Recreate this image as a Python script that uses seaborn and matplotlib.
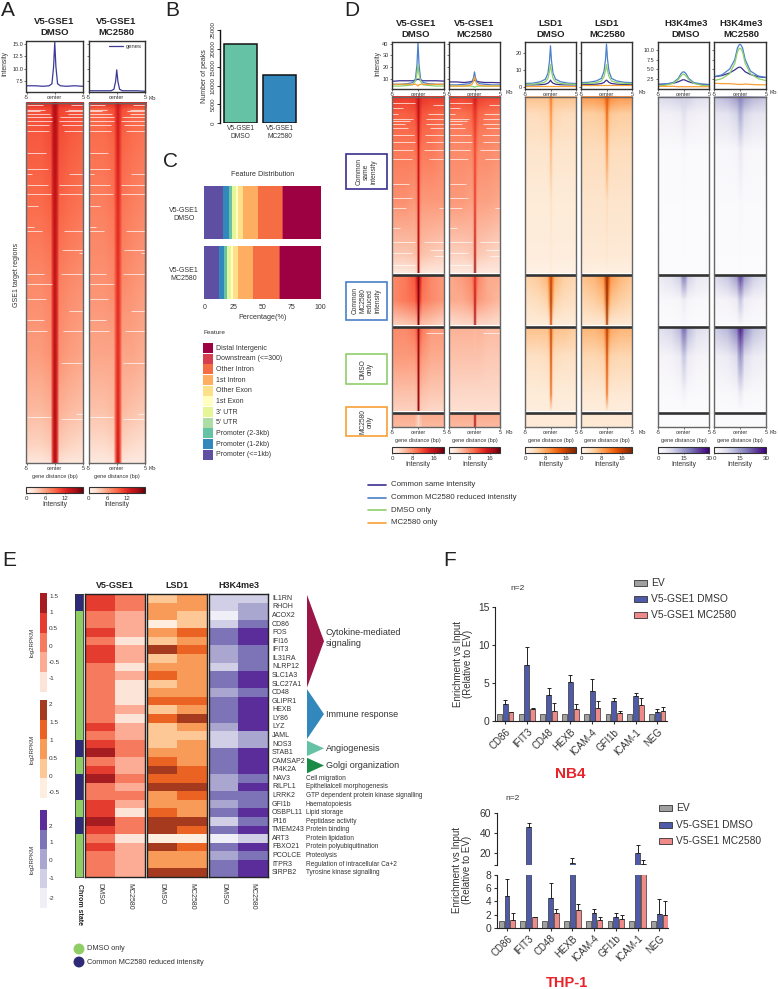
#!/usr/bin/env python3

import pandas as pd
import matplotlib.pyplot as plt
from matplotlib.colors import ListedColormap, Normalize
from matplotlib.cm import ScalarMappable
from matplotlib.image import NonUniformImage
from matplotlib.patches import Rectangle
import seaborn as sns

W, H = 778, 989

# ---- panel A / D signal tables, columns are kb from centre
heat_x = [-5, -2.5, -0.75, -0.35, 0, 0.35, 0.75, 2.5, 5]

a_rows = [0, .02, .1, .3, .5, .7, .85, .95, 1]
a_dmso = [[12, 12, 12, 14, 15, 14, 12, 12, 12],
          [10, 10, 10.5, 13, 15, 13, 10.5, 10, 10],
          [9.5, 9.5, 10, 13, 14.5, 13, 10, 9.5, 9],
          [8.5, 8.5, 9, 12.5, 14, 12.5, 9, 8.5, 8],
          [7, 7, 7.5, 12, 14, 12, 7.5, 7, 6.5],
          [6, 6, 6.5, 12, 14.5, 12, 6.5, 6, 5.5],
          [4.5, 4.5, 5, 12, 15, 12, 5, 4.5, 4],
          [3, 3, 3.5, 12, 15, 12, 3.5, 3, 2.5],
          [1.5, 1.5, 2, 12, 15, 12, 2, 1.5, 1.5]]
a_mc = [[12, 12, 12, 13, 14, 13, 12, 12, 12],
        [9, 9, 10, 11.5, 13, 11.5, 10, 9, 9],
        [8.5, 8.5, 9, 11, 13, 11, 9, 8.5, 8],
        [7.5, 7.5, 8, 10.5, 12, 10.5, 8, 7.5, 7],
        [6.5, 6.5, 7, 10, 12, 10, 7, 6.5, 6],
        [5.5, 5.5, 5.5, 10, 12, 10, 5.5, 5.5, 5],
        [4, 4, 4.5, 10, 12.5, 10, 4.5, 4, 3.5],
        [2.5, 2.5, 3, 10, 13, 10, 3, 2.5, 2],
        [1.2, 1.2, 1.5, 10, 14, 10, 1.5, 1.2, 1.2]]

# white no-signal streaks: row (0-1000), and where they stop / start in kb
a_left_rows = [6, 19, 23, 31, 39, 51, 60, 78, 139, 184, 198, 229, 253, 287, 345, 356, 474, 503, 545, 604, 634, 871]
a_left_end = [-2, -1.7, -2.6, -.8, -.5, -.5, -1.1, -1.1, -1.5, -1.25, -4, -1.25, -.7, -2.9, -3.7, -2.2, -1.9, -.5, -1.5, -1.9, -1.4, -.7]
a_right_rows = [6, 19, 23, 31, 39, 51, 60, 78, 198, 229, 253, 356, 409, 417, 474, 579, 634, 721, 863, 879]
a_right_start = [2.9, 2.4, 1.8, 2.4, .95, .8, 1.25, 1.7, 2.6, .8, .8, 1.7, 1.25, 4.3, 1.1, 2.6, 1.4, 1.1, 3.8, 1.1]

# clusters of panel D, heights in rows
d_names = ['Common same intensity', 'Common MC2580 reduced intensity', 'DMSO only', 'MC2580 only']
d_heights = [176, 49, 83, 13]
d_starts = [0, 179, 231, 317]
d_rows = [[0, .1, .3, .6, .9, 1], [0, .5, 1], [0, .35, .8, 1], [0, 1]]

d1_v5_dmso = [[[13, 12.5, 13, 14, 16, 14, 13, 12.5, 12.5], [10.5, 10.5, 11, 12.5, 16, 12.5, 11, 10.5, 10], [9, 9, 9, 10, 15, 10, 9, 9, 8],
               [7.5, 7.5, 7, 8, 15, 8, 7, 7, 7], [4, 4, 4.5, 5, 17, 5, 4.5, 4, 3.5], [1.5, 1.5, 2, 3, 18, 3, 2, 1.5, 1.5]],
              [[8, 9, 11, 14, 19, 14, 10, 8, 7], [8, 9, 10, 12, 19, 12, 9, 8, 7], [3.5, 4, 4.5, 5, 19, 5, 4.5, 4, 3]],
              [[8, 8, 9, 11, 18, 11, 9, 7, 7], [7, 7, 7, 8, 18, 8, 7, 6, 6], [4.5, 4.5, 4.5, 5, 18, 5, 4.5, 4, 4], [3.5, 3.5, 3.5, 4, 18, 4, 3.5, 3, 3]],
              [[6, 6, 6, 5, 3, 5, 6, 6, 6], [5, 5, 5, 4, 3, 4, 5, 5, 5]]]
d2_v5_mc = [[[12.5, 12, 12.5, 13.5, 15, 13.5, 12.5, 12, 12], [9.5, 9.5, 10, 11.5, 13, 11.5, 10, 9.5, 9], [8, 8, 8, 9, 12, 9, 8, 8, 7.5],
             [7, 7, 6.5, 7, 13, 7, 6.5, 6.5, 6], [3.5, 3.5, 4, 4.5, 16, 4.5, 4, 3.5, 3], [1.5, 1.5, 1.5, 2.5, 18, 2.5, 1.5, 1.5, 1.5]],
            [[6, 7, 8, 10, 14, 10, 8, 6, 6], [6, 6, 7, 8, 16, 8, 7, 6, 5], [2.5, 3, 3, 3.5, 17, 3.5, 3, 3, 2.5]],
            [[5.5, 5.5, 5.5, 5.5, 5, 5.5, 5.5, 5, 5], [4.5, 4.5, 4.5, 4.5, 4.5, 4.5, 4.5, 4, 4], [3, 3, 3, 3, 3, 3, 3, 3, 3], [2.5, 2.5, 2.5, 2.5, 2.5, 2.5, 2.5, 2.5, 2.5]],
            [[6, 6, 6, 6, 16, 6, 6, 6, 6], [5, 5, 5, 5, 17, 5, 5, 5, 5]]]
d3_lsd_dmso = [[[6, 6, 6, 7, 12, 7, 6, 6, 6], [3.5, 3.5, 4, 5, 10, 5, 4, 3.5, 3.5], [2.5, 2.5, 2.5, 3, 7, 3, 2.5, 2.5, 2.5],
                [1.5, 1.5, 1.5, 1.5, 3, 1.5, 1.5, 1.5, 1.5], [1.2, 1.2, 1.2, 1.2, 2, 1.2, 1.2, 1.2, 1.2], [.6, .6, .6, .6, 1.5, .6, .6, .6, .6]],
               [[4.5, 5.5, 7, 11, 16, 11, 7, 5, 4], [3, 3.5, 4.5, 8, 17, 8, 4.5, 3.5, 3], [1.5, 1.5, 1.5, 2, 15, 2, 1.5, 1.5, 1.5]],
               [[6, 6, 6, 8, 16, 8, 6, 6, 5], [3, 3, 3.5, 4, 15, 4, 3.5, 3, 3], [1.5, 1.5, 1.5, 2, 12, 2, 1.5, 1.5, 1.5], [1.2, 1.2, 1.2, 1.2, 2.5, 1.2, 1.2, 1.2, 1.2]],
               [[2, 2, 2, 2, 2, 2, 2, 2, 2], [1.7, 1.7, 1.7, 1.7, 1.7, 1.7, 1.7, 1.7, 1.7]]]
d4_lsd_mc = [[[9, 9, 10, 12, 14, 12, 10, 9, 9], [5, 5, 5.5, 7, 13, 7, 5.5, 5, 5], [3.5, 3.5, 3.5, 4.5, 10, 4.5, 3.5, 3.5, 3.5],
              [2.5, 2.5, 2.5, 2.5, 3.5, 2.5, 2.5, 2.5, 2.5], [1.8, 1.8, 1.8, 1.8, 2.5, 1.8, 1.8, 1.8, 1.8], [.8, .8, .8, .8, 1, .8, .8, .8, .8]],
             [[6, 7, 9, 14, 19, 14, 9, 7, 5.5], [4, 5, 6, 10, 19, 10, 6, 5, 4], [2, 2, 2, 3, 17, 3, 2, 2, 2]],
             [[7, 7, 8, 11, 17, 11, 8, 7, 7], [4, 4, 4.5, 6, 15, 6, 4.5, 4, 4], [2, 2, 2, 2.5, 12, 2.5, 2, 2, 2], [1.3, 1.3, 1.3, 1.3, 2.5, 1.3, 1.3, 1.3, 1.3]],
             [[2.2, 2.2, 2.2, 2.2, 2.2, 2.2, 2.2, 2.2, 2.2], [1.8, 1.8, 1.8, 1.8, 1.8, 1.8, 1.8, 1.8, 1.8]]]
d5_h3_dmso = [[[7, 8, 9, 9, 8, 9, 9, 7, 6], [2.5, 2.5, 3.5, 5, 6, 5, 3.5, 2.5, 2], [.5, .5, .5, .8, 1.2, .8, .5, .5, .5],
               [.3, .3, .3, .3, .5, .3, .3, .3, .3], [.2, .2, .2, .2, .2, .2, .2, .2, .2], [.2, .2, .2, .2, .2, .2, .2, .2, .2]],
              [[4, 6, 9, 16, 18, 16, 9, 5, 4], [.8, 1, 1.5, 3, 4, 3, 1.5, 1, .8], [.3, .3, .4, .6, .8, .6, .4, .3, .3]],
              [[6, 8, 12, 18, 20, 18, 12, 7, 5], [1.5, 2, 4, 8, 10, 8, 4, 2, 1.5], [.5, .5, .7, 1.5, 2, 1.5, .7, .5, .5], [.2, .2, .2, .3, .4, .3, .2, .2, .2]],
              [[.3, .3, .3, .3, .3, .3, .3, .3, .3], [.3, .3, .3, .3, .3, .3, .3, .3, .3]]]
d6_h3_mc = [[[10, 12, 15, 17, 18, 17, 15, 12, 10], [5, 5.5, 8, 11, 13, 11, 8, 5.5, 5], [1, 1, 1.5, 3, 4.5, 3, 1.5, 1, 1],
             [.4, .4, .4, .8, 1.2, .8, .4, .4, .4], [.2, .2, .2, .3, .4, .3, .2, .2, .2], [.2, .2, .2, .2, .2, .2, .2, .2, .2]],
            [[7, 10, 15, 21, 24, 21, 15, 9, 6], [1.5, 2, 4, 8, 10, 8, 4, 2, 1.5], [.4, .4, .5, 1, 1.5, 1, .5, .4, .4]],
            [[9, 12, 18, 24, 27, 24, 18, 11, 8], [3, 4, 7, 13, 15, 13, 7, 4, 3], [.7, .7, 1, 2.5, 4, 2.5, 1, .7, .7], [.3, .3, .3, .4, .5, .4, .3, .3, .3]],
            [[.4, .4, .4, .4, .4, .4, .4, .4, .4], [.3, .3, .3, .3, .3, .3, .3, .3, .3]]]

d_left_rows = [6, 11, 17, 22, 24, 27, 31, 38, 45, 53, 62, 87, 101, 111, 131, 145, 156, 168]
d_left_end = [-.55, -2.85, -3.8, -1, -1.5, -2.5, -1.9, -.75, -.55, -.9, -1.2, -1.7, -1.2, -2.4, -3.5, -.55, -1.2, -.55]
d_right_rows = [8, 17, 22, 27, 31, 38, 45, 53, 62, 111, 145, 153, 159, 236]
d_right_start = [2.9, 1.9, 1.6, 1.6, 2.25, 1.4, 1.6, 1.1, 2.05, 4, 1.1, 2.25, 3, 1.6]

# ---- profile lines
prof_x = [-5, -3.5, -2, -1, -0.5, -0.2, 0, 0.2, 0.5, 1, 2, 3.5, 5]
a_prof_dmso = [6.6, 6.6, 6.5, 6.6, 7, 10.5, 15.4, 10.5, 7, 6.6, 6.5, 6.6, 6.5]
a_prof_mc = [5.6, 5.6, 5.6, 5.6, 5.9, 7.5, 9.8, 7.5, 5.9, 5.6, 5.6, 5.6, 5.5]

d1_prof = [[8, 8.5, 8.5, 8.5, 9, 9.5, 10, 9.5, 9, 8.5, 8.5, 8.5, 8.2],
           [5.5, 5.5, 6, 7, 10, 22, 41, 22, 10, 7, 6, 5.5, 5.5],
           [4, 4, 4.5, 5, 8, 14, 22, 14, 8, 5, 4.5, 4, 4],
           [5.5, 5.5, 5.5, 5.5, 5.5, 5, 4, 5, 5.5, 5.5, 5.5, 5.5, 5.5]]
d2_prof = [[7.5, 7.5, 7, 7.5, 8, 8.5, 9, 8.5, 8, 7.5, 7, 7, 6.8],
           [5, 5, 5.5, 6, 7.5, 11, 16, 11, 7.5, 6, 5.5, 5, 5],
           [4, 4, 4, 4, 3.8, 3.5, 3, 3.5, 3.8, 4, 4, 4, 4],
           [4, 4, 4, 4.5, 5.5, 8, 12, 8, 5.5, 4.5, 4, 4, 4]]
d3_prof = [[1.2, 1.2, 1.3, 1.6, 2.2, 3, 4, 3, 2.2, 1.6, 1.3, 1.2, 1.2],
           [2, 2.2, 3, 4.5, 8, 15, 24, 15, 8, 4.5, 3, 2.2, 2],
           [1.5, 1.6, 2, 3, 5, 9, 13, 9, 5, 3, 2, 1.6, 1.5],
           [.7, .7, .7, .7, .7, .7, .7, .7, .7, .7, .7, .7, .7]]
d4_prof = [[1.3, 1.4, 1.6, 2, 2.6, 3.5, 4, 3.5, 2.6, 2, 1.6, 1.4, 1.3],
           [2.5, 2.7, 3.5, 5, 9, 16, 25, 16, 9, 5, 3.5, 2.7, 2.5],
           [2, 2.1, 2.5, 3.5, 6, 9.5, 13, 9.5, 6, 3.5, 2.5, 2.1, 2],
           [1, 1, 1, 1, 1, 1, 1, 1, 1, 1, 1, 1, 1]]
d5_prof = [[1, 1.1, 1.3, 1.7, 2, 2.2, 2.2, 2.2, 2, 1.7, 1.3, 1, .9],
           [1, 1.1, 1.5, 2.6, 3.8, 4.2, 4.3, 4.2, 3.8, 2.6, 1.5, 1.1, 1],
           [.6, .8, 1.3, 2.3, 3.2, 3.6, 3.7, 3.6, 3.2, 2.3, 1.3, .8, .6],
           [.5, .5, .5, .4, .4, .4, .4, .4, .4, .4, .4, .4, .4]]
d6_prof = [[3, 3.3, 4, 4.8, 5.3, 5.5, 5.5, 5.4, 5, 4.3, 3.6, 3, 2.8],
           [3, 3.5, 5, 7.5, 10.5, 11.3, 11.5, 11.3, 10.5, 7.5, 4.5, 3.2, 2.8],
           [2, 2.5, 3.8, 6.5, 9.5, 10.3, 10.5, 10.3, 9.5, 6.5, 3.8, 2.5, 2],
           [1.3, 1.2, 1.2, 1.1, 1, 1, 1, 1, 1, 1.1, 1, .9, .9]]

# ---- panel B
b_samples = ['V5-GSE1\nDMSO', 'V5-GSE1\nMC2580']
b_peaks = [21240, 12980]

# ---- panel C, stacked from left
c_features = ['Promoter (<=1kb)', 'Promoter (1-2kb)', 'Promoter (2-3kb)', "5' UTR", "3' UTR", '1st Exon',
              'Other Exon', '1st Intron', 'Other Intron', 'Downstream (<=300)', 'Distal Intergenic']
c_dmso = [16.3, 4.9, 2.3, .4, 3.2, 1.5, 4.8, 12.4, 21.3, .2, 32.7]
c_mc = [12.6, 4.6, 2.3, .4, 3.3, 1.5, 4.0, 12.8, 23.0, .2, 35.3]
c_colors = ['#5e4fa2', '#3288bd', '#66c2a5', '#abdda4', '#e6f598', '#ffffbf',
            '#fee08b', '#fdae61', '#f46d43', '#d53e4f', '#9e0142']

# ---- panel E, colour level of every gene (0-4)
genes = ['IL1RN', 'RHOH', 'ACOX2', 'CD86', 'FOS', 'IFI16', 'IFIT3', 'IL31RA', 'NLRP12', 'SLC1A3', 'SLC27A1',
         'CD48', 'GLIPR1', 'HEXB', 'LY86', 'LYZ', 'JAML', 'NOS3', 'STAB1', 'CAMSAP2', 'PI4K2A', 'NAV3', 'RILPL1',
         'LRRK2', 'GFI1b', 'OSBPL11', 'PI16', 'TMEM243', 'ART3', 'FBXO21', 'PCOLCE', 'ITPR3', 'SIRPB2']
chrom_state = [1, 1, 0, 0, 0, 0, 0, 0, 0, 0, 0, 0, 0, 0, 0, 0, 0, 1, 1, 0, 0, 1, 1, 1, 0, 0, 1, 1, 0, 0, 0, 0, 0]
v5_dmso = [3, 3, 2, 2, 3, 2, 3, 3, 2, 2, 2, 2, 2, 2, 2, 3, 2, 3, 4, 2, 3, 4, 2, 2, 3, 3, 4, 3, 2, 3, 2, 2, 2]
v5_mc = [2, 2, 1, 1, 1, 0, 1, 1, 0, 1, 0, 0, 0, 1, 0, 1, 1, 2, 2, 1, 1, 2, 1, 2, 1, 0, 2, 2, 0, 1, 1, 1, 1]
lsd_dmso = [1, 2, 2, 0, 2, 1, 4, 1, 2, 3, 1, 2, 3, 1, 3, 1, 1, 1, 2, 3, 4, 3, 4, 2, 2, 3, 4, 4, 0, 4, 2, 2, 4]
lsd_mc = [2, 2, 1, 1, 3, 2, 3, 2, 2, 2, 2, 2, 3, 2, 4, 2, 1, 2, 2, 2, 3, 3, 4, 3, 2, 2, 4, 3, 0, 3, 2, 2, 4]
h3_dmso = [1, 1, 0, 1, 3, 3, 2, 2, 1, 3, 3, 2, 3, 3, 3, 2, 1, 1, 3, 3, 3, 2, 2, 3, 2, 3, 1, 3, 0, 3, 2, 3, 3]
h3_mc = [1, 2, 2, 3, 4, 4, 3, 3, 3, 4, 4, 3, 4, 4, 4, 4, 2, 2, 4, 4, 4, 3, 4, 3, 3, 4, 3, 4, 1, 4, 3, 4, 4]
e_reds = ['#fde4d8', '#fcab95', '#f67b5e', '#e43d30', '#a51d20']
e_oranges = ['#fdeee0', '#fdc896', '#f99b58', '#eb6323', '#a63a1e']
e_purples = ['#f0eff7', '#d0cfe6', '#a9a7d0', '#7c74b6', '#5a2d9a']
chrom_colors = ['#8fce65', '#2e2a78']

path_names = ['Cytokine-mediated\nsignaling', 'Immune response', 'Angiogenesis', 'Golgi organization']
path_first = [0, 11, 17, 19]
path_last = [11, 17, 19, 21]
path_colors = ['#9b1647', '#3288bd', '#66c2a5', '#1a8a47']
gene_terms = ['Cell migration', 'Epithelialcell morphogenesis', 'GTP dependent protein kinase signalling',
              'Haematopoiesis', 'Lipid storage', 'Peptidase activity', 'Protein binding', 'Protein lipidation',
              'Protein polyubiquitination', 'Proteolysis', 'Regulation of intracellular Ca+2', 'Tyrosine kinase signalling']

# ---- panel F
f_genes = ['CD86', 'IFIT3', 'CD48', 'HEXB', 'ICAM-4', 'GFI1b', 'ICAM-1', 'NEG']
f_groups = ['EV', 'V5-GSE1 DMSO', 'V5-GSE1 MC2580']
f_colors = ['#a0a0a0', '#4f5aa9', '#ef8a8a']
ev_level = [1, 1, 1, 1, 1, 1, 1, 1]
nb4_dmso = [2.3, 7.4, 3.4, 5.2, 4.0, 2.6, 3.3, 1.2]
nb4_mc = [1.2, 1.6, 1.4, 1.6, 1.7, 1.1, 2.1, 1.4]
nb4_dmso_err = [.5, 2.3, .9, .8, 1.6, .5, .4, .4]
nb4_mc_err = [.05, .15, 1.0, .6, 1.0, .2, .9, .5]
thp_dmso = [4.8, 46, 4.5, 10, 2.2, 1.7, 20, 2.1]
thp_mc = [1.1, 1.6, 2.3, 2.7, 1.2, 1.3, 9.5, 1.9]
thp_dmso_err = [2.6, 4.5, 2.3, 5.5, .6, .5, 8, 2.3]
thp_mc_err = [1.2, .1, .6, .9, .4, .7, 4, 2.1]

sns.set_style('ticks')
plt.rcParams['font.family'] = ['Liberation Sans', 'DejaVu Sans']
plt.rcParams['text.color'] = '#333333'
plt.rcParams['axes.labelcolor'] = '#333333'
plt.rcParams['xtick.color'] = '#333333'
plt.rcParams['ytick.color'] = '#333333'

DARK = '#333333'
line_colors = ['#3a2f8f', '#4a7fc9', '#8fd06b', '#f7a035']
reds = sns.color_palette('Reds', as_cmap=True)
oranges = sns.color_palette('Oranges', as_cmap=True)
purples = sns.color_palette('Purples', as_cmap=True)

fig = plt.figure(figsize=(W / 100, H / 100), dpi=100)


def px_ax(l, t, r, b):
    return fig.add_axes([l / W, 1 - b / H, (r - l) / W, (b - t) / H])


def put(x, y, s, size=5, **kw):
    kw.setdefault('ha', 'center')
    kw.setdefault('va', 'center')
    fig.text(x / W, 1 - y / H, s, fontsize=size, zorder=10, **kw)


def draw_profile(l, r, series, colors, ylim, yticks, ylabels=True, lw=.9):
    ax = px_ax(l, 42 if len(series) > 1 else 41, r, 89 if len(series) > 1 else 92)
    for vals, col in zip(series, colors):
        sns.lineplot(x=prof_x, y=vals, color=col, lw=lw, ax=ax, errorbar=None)
    ax.set_xlim(-5, 5)
    ax.set_ylim(*ylim)
    ax.set_xticks([-5, 0, 5], ['-5', 'center', '5'])
    ax.set_yticks(yticks)
    if not ylabels:
        ax.set_yticklabels([])
    ax.tick_params(labelsize=4, length=1.5, width=.5, pad=1)
    for sp in ax.spines.values():
        sp.set_linewidth(1)
        sp.set_color(DARK)
    return ax


def draw_signal(l, t, r, b, blocks, cmap, vmax, edges=None, left=None, right=None, total=None):
    unit = (b - t) / total
    for rows, z, start, height in blocks:
        sub = px_ax(l, t + start * unit, r, t + (start + height) * unit)
        sub.set_xlim(-5, 5)
        sub.set_ylim(0, 1)
        sub.axis('off')
        im = NonUniformImage(sub, interpolation='bilinear', cmap=cmap, norm=Normalize(0, vmax),
                             extent=(-5, 5, 0, 1))
        im.set_data(heat_x, [1 - f for f in rows[::-1]], z[::-1])
        sub.add_image(im)
    ax = px_ax(l, t, r, b)
    ax.set_zorder(3)
    ax.patch.set_alpha(0)
    if left is not None:
        ax.hlines(left[0], -5, left[1], color='white', lw=.6, alpha=.8)
        ax.hlines(right[0], right[1], 5, color='white', lw=.6, alpha=.8)
    ax.set_xlim(-5, 5)
    ax.set_ylim(total, 0)
    ax.set_xticks([-5, 0, 5], ['-5', 'center', '5'])
    ax.set_yticks([])
    ax.tick_params(labelsize=4, length=1.5, width=.5, pad=1)
    ax.set_xlabel('gene distance (bp)', fontsize=4, labelpad=1.5)
    for sp in ax.spines.values():
        sp.set_linewidth(1)
        sp.set_color('#666666')
    if edges:
        for e in edges:
            ax.axhline(e, color=DARK, lw=1.9)
    return ax


def draw_cbar(l, r, t, b, cmap, vmax, ticks, label='Intensity'):
    cax = px_ax(l, t, r, b)
    cb = fig.colorbar(ScalarMappable(Normalize(0, vmax), cmap), cax=cax, orientation='horizontal')
    cb.set_ticks(ticks)
    cb.ax.tick_params(labelsize=4.4, length=1, width=.5, pad=1)
    cb.outline.set_linewidth(.8)
    cb.outline.set_edgecolor(DARK)
    put((l + r) / 2, b + 12, label, 4.8)


# ---- A
ax = draw_profile(26.5, 83, [a_prof_dmso], ['#3b3a98'], (5.35, 15.6), [7.5, 10, 12.5, 15])
ax.set_yticklabels(['7.5', '10.0', '12.5', '15.0'])
ax = draw_profile(88.5, 145, [a_prof_mc], ['#3b3a98'], (5.35, 15.6), [7.5, 10, 12.5, 15], ylabels=False)
ax.plot([], [], color='#3b3a98', lw=.9, label='genes')
ax.legend(frameon=False, fontsize=4.2, loc='upper right', borderaxespad=.1, handlelength=2.4, handletextpad=.5)
put(5, 64, 'Intensity', 4.8, rotation=90)
put(54.5, 27, 'V5-GSE1\nDMSO', 6.8, fontweight='bold', color='#222222')
put(116.5, 27, 'V5-GSE1\nMC2580', 6.8, fontweight='bold', color='#222222')
put(152, 98, 'Kb', 4.4)

draw_signal(26.5, 103, 83, 463, [(a_rows, a_dmso, 0, 1000)], reds, 17.5,
            left=(a_left_rows, a_left_end), right=(a_right_rows, a_right_start), total=1000)
draw_signal(88.5, 103, 145, 463, [(a_rows, a_mc, 0, 1000)], reds, 17.5,
            left=(a_left_rows, a_left_end), right=(a_right_rows, a_right_start), total=1000)
put(152, 468, 'Kb', 4.4)
put(17, 275, 'GSE1 target regions', 5, rotation=90)
draw_cbar(26.5, 83, 487, 493, reds, 17.5, [0, 6, 12])
draw_cbar(88.5, 145, 487, 493, reds, 17.5, [0, 6, 12])

# ---- B
ax = px_ax(220, 30, 300, 123)
sns.barplot(x=b_samples, y=b_peaks, hue=b_samples, palette=['#66c2a5', '#3288bd'], width=.85, legend=False,
            saturation=1, edgecolor='#111111', linewidth=1.1, ax=ax)
ax.set_xlim(-.525, 1.525)
ax.set_ylim(0, 25000)
ax.set_yticks([0, 5000, 10000, 15000, 20000, 25000])
ax.tick_params(axis='y', labelsize=4.4, labelrotation=90, length=2, width=.7, pad=1)
ax.tick_params(axis='x', labelsize=4.8, length=0, pad=1.5)
for lab in ax.get_yticklabels():
    lab.set_va('center')
ax.set_ylabel('Number of peaks', fontsize=5, labelpad=2)
sns.despine(ax=ax, bottom=True)
ax.spines['left'].set_linewidth(1)
ax.spines['left'].set_color('#111111')

# ---- C
c_samples = ['V5-GSE1\nDMSO', 'V5-GSE1\nMC2580']
c_df = pd.DataFrame({'sample': [c_samples[0]] * 11 + [c_samples[1]] * 11,
                     'feature': c_features * 2,
                     'pct': c_dmso + c_mc})
ax = px_ax(204.3, 179.5, 320.7, 301)
sns.histplot(c_df, y='sample', hue='feature', weights='pct', multiple='stack', discrete=True, shrink=.883,
             hue_order=c_features[::-1], palette=c_colors[::-1], edgecolor='none', linewidth=0, alpha=1,
             legend=False, ax=ax)
ax.set_xlim(0, 100)
ax.set_ylim(1.475, -.55)
ax.set_xticks([0, 25, 50, 75, 100])
ax.set_yticks([0, 1], c_samples)
ax.tick_params(axis='x', labelsize=5, length=0, pad=2)
ax.tick_params(axis='y', labelsize=5, length=0, pad=4)
for lab in ax.get_yticklabels():
    lab.set_multialignment('center')
ax.set_xlabel('Percentage(%)', fontsize=5.2, labelpad=2)
ax.set_ylabel('')
sns.despine(ax=ax, left=True, bottom=True)
put(263, 175, 'Feature Distribution', 5.2)

# ---- overlay for legends, boxes and swatches, in pixels
over = fig.add_axes([0, 0, 1, 1], zorder=5)
over.set_xlim(0, W)
over.set_ylim(H, 0)
over.axis('off')
over.patch.set_alpha(0)
put(203, 333, 'Feature', 4.6, ha='left')
for i, (name, col) in enumerate(zip(c_features[::-1], c_colors[::-1])):
    yc = 348 + i * 10.68
    over.add_patch(Rectangle((203, yc - 5), 9.6, 10, fc=col, ec='none'))
    put(216, yc, name, 5, ha='left')

# ---- D
d_blocks = lambda tab: [(d_rows[i], tab[i], d_starts[i], d_heights[i]) for i in range(4)]
edges = [177.5, 229.5, 315.5]
d_panels = [(392, 444, d1_prof, d1_v5_dmso, reds, 20, (1.5, 41.4), [10, 20, 30, 40], True, [0, 8, 16]),
            (449, 500, d2_prof, d2_v5_mc, reds, 20, (1.5, 41.4), [10, 20, 30, 40], False, [0, 8, 16]),
            (525, 576, d3_prof, d3_lsd_dmso, oranges, 20, (-1.2, 26.2), [0, 10, 20], True, [0, 8, 16]),
            (581, 632, d4_prof, d4_lsd_mc, oranges, 20, (-1.2, 26.2), [0, 10, 20], False, [0, 8, 16]),
            (658, 709, d5_prof, d5_h3_dmso, purples, 30, (-.2, 12.1), [2.5, 5, 7.5, 10], True, [0, 15, 30]),
            (714, 766, d6_prof, d6_h3_mc, purples, 30, (-.2, 12.1), [2.5, 5, 7.5, 10], False, [0, 15, 30])]
for k, (l, r, prof, tab, cmap, vmax, ylim, yt, yl, cticks) in enumerate(d_panels):
    draw_profile(l, r, prof, line_colors, ylim, yt, ylabels=yl)
    gaps = {'left': (d_left_rows, d_left_end), 'right': (d_right_rows, d_right_start)} if k < 2 else {}
    draw_signal(l, 97, r, 427, d_blocks(tab), cmap, vmax, edges=edges, total=330, **gaps)
    draw_cbar(l, r, 447, 453, cmap, vmax, cticks)

put(378, 63, 'Intensity', 4.8, rotation=90)
for x, s in zip([416, 474, 551, 607, 686, 741],
                ['V5-GSE1\nDMSO', 'V5-GSE1\nMC2580', 'LSD1\nDMSO', 'LSD1\nMC2580', 'H3K4me3\nDMSO', 'H3K4me3\nMC2580']):
    put(x, 29, s, 6.8, fontweight='bold', color='#222222')
for x in [509, 642, 773]:
    put(x, 93, 'Kb', 4.4)
    put(x, 432, 'Kb', 4.4)

box_tops = [154, 282, 354, 407]
box_bottoms = [189, 320, 384, 436]
box_labels = ['Common\nsame\nintensity', 'Common\nMC2580\nreduced\nintensity', 'DMSO\nonly', 'MC2580\nonly']
for top, bot, col, lab in zip(box_tops, box_bottoms, line_colors, box_labels):
    over.add_patch(Rectangle((346.5, top), 40.5, bot - top, fc='white', ec=col, lw=1.2))
    put(366.5, (top + bot) / 2, lab, 4.8, rotation=90, linespacing=1.15)

for i, (name, col) in enumerate(zip(d_names, line_colors)):
    yc = 485 + i * 12.5
    over.plot([368, 386], [yc, yc], color=col, lw=1.2)
    put(391, yc, name, 5.7, ha='left')

# ---- E
grid_top, grid_bot = 594, 877
for col_l, col_r, a_vals, b_vals, pal, title in [(85, 145, v5_dmso, v5_mc, e_reds, 'V5-GSE1'),
                                                 (147, 207, lsd_dmso, lsd_mc, e_oranges, 'LSD1'),
                                                 (209, 268, h3_dmso, h3_mc, e_purples, 'H3K4me3')]:
    ax = px_ax(col_l, grid_top, col_r, grid_bot)
    df_e = pd.DataFrame({'DMSO': a_vals, 'MC2580': b_vals}, index=genes)
    sns.heatmap(df_e, cmap=ListedColormap(pal), vmin=-.5, vmax=4.5, cbar=False, ax=ax,
                xticklabels=True, yticklabels=False)
    ax.tick_params(axis='x', length=0, labelsize=5, pad=4, labelrotation=270)
    for sp in ax.spines.values():
        sp.set_visible(True)
        sp.set_linewidth(1)
        sp.set_color('#222222')
    put((col_l + col_r) / 2, 586, title, 6.5, fontweight='bold', color='#222222')

ax = px_ax(75, grid_top, 83, grid_bot)
sns.heatmap(pd.DataFrame({'Chrom state': chrom_state}, index=genes), cmap=ListedColormap(chrom_colors),
            cbar=False, ax=ax, xticklabels=False, yticklabels=False, vmin=0, vmax=1)
for sp in ax.spines.values():
    sp.set_visible(True)
    sp.set_linewidth(.6)
    sp.set_color('#333333')
ax.set_xlabel('')
put(79.5, 905, 'Chrom state', 5, rotation=270, fontweight='bold', color='#222222')

cb_tops = [593, 700, 810]
cb_bots = [692, 798, 908]
cb_pals = [e_reds, e_oranges, e_purples]
cb_labels = [['1.5', '1', '0.5', '0', '-0.5', '-1'], ['2', '1.5', '1', '0.5', '0', '-0.5'], ['2', '1', '0', '-1', '-2']]
cb_label_y = [[596, 613, 629, 646, 662, 679], [705, 723, 741, 758, 776, 792], [826, 843, 861, 878, 898]]
for top, bot, pal, labs, ys in zip(cb_tops, cb_bots, cb_pals, cb_labels, cb_label_y):
    ax = px_ax(40, top, 46.5, bot)
    sns.heatmap([[4], [3], [2], [1], [0]], cmap=ListedColormap(pal), vmin=-.5, vmax=4.5, cbar=False, ax=ax,
                xticklabels=False, yticklabels=False)
    for lab, y in zip(labs, ys):
        put(49, y, lab, 4.6, ha='left')
    put(32, (top + bot) / 2, 'log2RPKM', 4.4, rotation=90)

for i, g in enumerate(genes):
    put(272, grid_top + (i + .5) * 283 / 33, g, 5, ha='left')
for i, term in enumerate(gene_terms):
    put(306, grid_top + (i + 21.5) * 283 / 33, term, 4.7, ha='left')

ax = px_ax(307, grid_top, 324, grid_bot)
ax.set_xlim(0, 1)
ax.set_ylim(33, 0)
ax.axis('off')
for first, last, col, name in zip(path_first, path_last, path_colors, path_names):
    ax.fill([0, 1, 0], [first + .1, (first + last) / 2, last - .1], color=col, lw=0)
    put(326, grid_top + (first + last) / 2 * 283 / 33 - (3 if first == 0 else 0), name, 6.5, ha='left', va='center', linespacing=1.2)

over.scatter([79, 79], [949, 962], s=62, c=chrom_colors, linewidths=0)
put(87, 949, 'DMSO only', 5.3, ha='left')
put(87, 962, 'Common MC2580 reduced intensity', 5.3, ha='left')


# ---- F
def bar_panel(ax, dmso, mc, dmso_err, mc_err):
    long_df = pd.DataFrame({'gene': f_genes * 3,
                            'group': [f_groups[0]] * 8 + [f_groups[1]] * 8 + [f_groups[2]] * 8,
                            'value': ev_level + dmso + mc})
    sns.barplot(long_df, x='gene', y='value', hue='group', hue_order=f_groups, palette=f_colors, width=.8, gap=.15,
                saturation=1, edgecolor='#333333', linewidth=.5, legend=False, errorbar=None, ax=ax)
    for cont, errs in zip(ax.containers[1:], [dmso_err, mc_err]):
        for patch, e in zip(cont, errs):
            ax.errorbar(patch.get_x() + patch.get_width() / 2, patch.get_height(), yerr=[[0], [e]],
                        color='#222222', lw=.7, capsize=1.1, capthick=.7)
    ax.set_xlabel('')
    ax.set_ylabel('')
    for name in ['top', 'right']:
        ax.spines[name].set_visible(False)
    for name in ['left', 'bottom']:
        ax.spines[name].set_linewidth(.8)
        ax.spines[name].set_color('#222222')
    ax.tick_params(labelsize=7.4, length=2.5, width=.8, pad=1.5, colors='#333333')


def style_xlabels(ax):
    ax.set_xticks(range(8), f_genes)
    ax.tick_params(axis='x', labelsize=7)
    for lab in ax.get_xticklabels():
        lab.set_rotation(45)
        lab.set_ha('right')
        lab.set_rotation_mode('anchor')


ax = px_ax(495, 606.7, 667, 721.3)
bar_panel(ax, nb4_dmso, nb4_mc, nb4_dmso_err, nb4_mc_err)
ax.set_xlim(-.47, 7.45)
ax.set_ylim(0, 15)
ax.set_yticks([0, 5, 10, 15])
style_xlabels(ax)
put(463, 664, 'Enrichment vs Input\n(Relative to EV)', 7, rotation=90, linespacing=1.05)
put(518, 588, 'n=2', 6)
put(570, 774, 'NB4', 11, fontweight='bold', color='#e8232a')

ax_top = px_ax(497, 813, 668, 865)
bar_panel(ax_top, thp_dmso, thp_mc, thp_dmso_err, thp_mc_err)
ax_top.set_xlim(-.46, 7.4)
ax_top.set_ylim(8, 60)
ax_top.set_yticks([8, 20, 40, 60], ['', '20', '40', '60'])
ax_top.spines['bottom'].set_visible(False)
ax_top.tick_params(axis='x', bottom=False, labelbottom=False)
ax_low = px_ax(497, 875, 668, 927.7)
bar_panel(ax_low, thp_dmso, thp_mc, thp_dmso_err, thp_mc_err)
ax_low.set_xlim(-.46, 7.4)
ax_low.set_ylim(0, 8)
ax_low.set_yticks([0, 2, 4, 6, 8])
style_xlabels(ax_low)
put(462, 870, 'Enrichment vs Input\n(Relative to EV)', 7, rotation=90, linespacing=1.05)
put(513, 798, 'n=2', 6)
put(567, 983, 'THP-1', 10.5, fontweight='bold', color='#e8232a')

for x0, ys in [(634, [583, 599, 615]), (659, [808, 825, 841])]:
    for y, col, name in zip(ys, f_colors, f_groups):
        over.add_patch(Rectangle((x0, y - 3), 13, 6, fc=col, ec='#333333', lw=.6))
        put(x0 + 17, y, name, 7.4, ha='left')

# ---- panel letters
for x, y, s in [(1, 10, 'A'), (165, 10, 'B'), (163, 161, 'C'), (344, 10, 'D'), (2, 560, 'E'), (443, 560, 'F')]:
    put(x, y, s, 15, ha='left', color='#222222')

fig.savefig('out.png', dpi=100)
plt.close(fig)
